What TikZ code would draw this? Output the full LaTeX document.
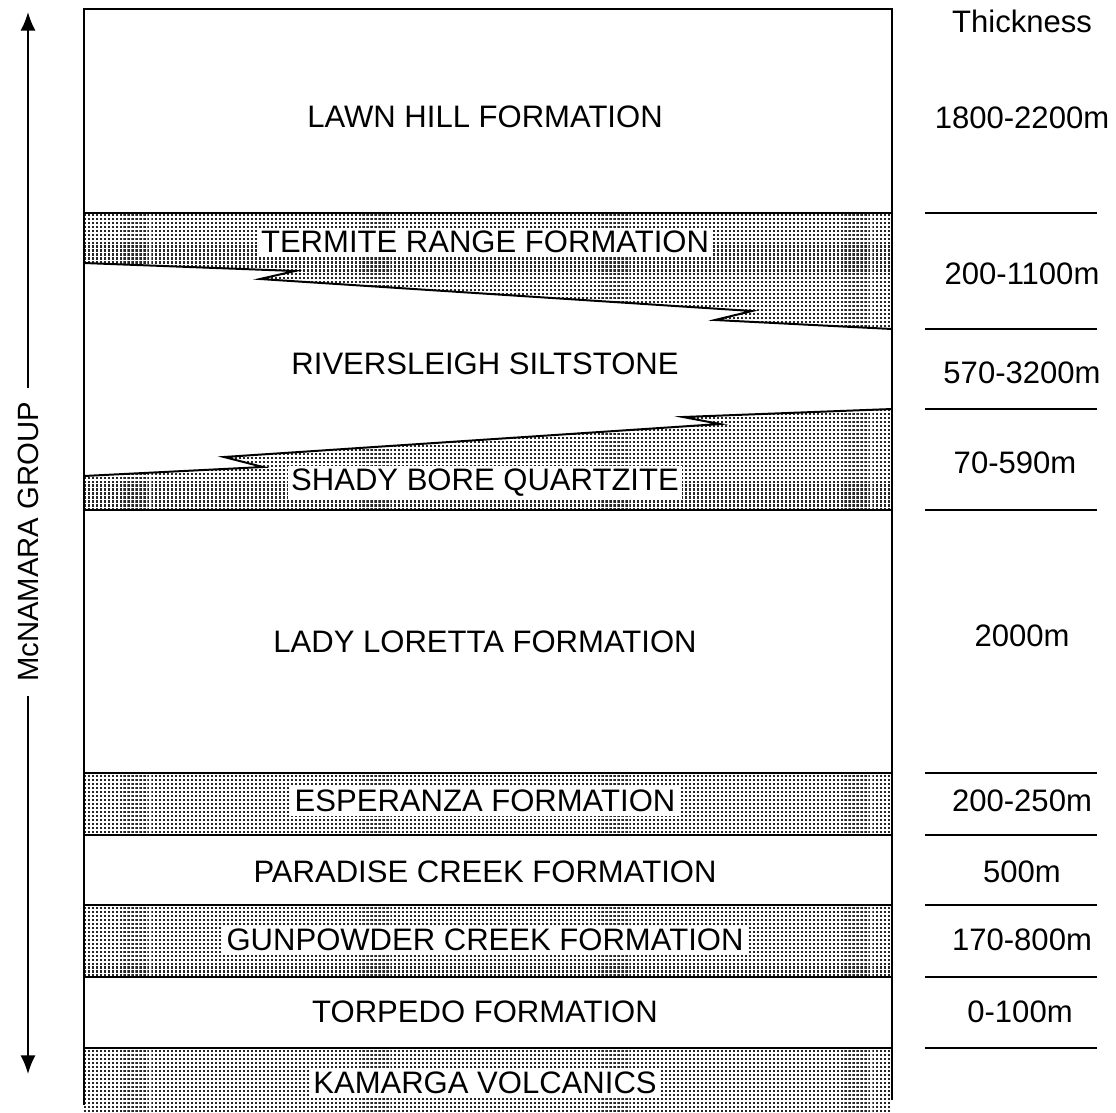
\documentclass[tikz,border=0pt]{standalone}
\usepackage{fontspec}
\setmainfont{Liberation Sans}
\usetikzlibrary{positioning,calc,patterns.meta,arrows.meta}
\colorlet{stippleGray}{black!85}

\tikzdeclarepattern{
  name=stipple,
  type=uncolored,
  bottom left={(-.1pt,-.1pt)},
  top right={(3.5pt,3.5pt)},
  tile size={(3.4pt,3.4pt)},
  code={\fill (0pt,0pt) rectangle (1.8pt,1.8pt);}
}

\begin{document}
\begin{tikzpicture}[x=0.03cm, y=-0.03cm,
    every node/.style={font=\fontsize{26.5}{31}\selectfont, align=center},
    bed/.style={pattern=stipple, pattern color=stippleGray},
    bedlabel/.style={fill=white, inner sep=3pt},
    contact/.style={line width=1.7pt},
    thickline/.style={line width=1.3pt}]
    \useasboundingbox (0,0) rectangle (1116,1112);

    % stippled beds
    \fill[bed] (84,213) -- (892,213) -- (892,329) -- (715,320) -- (752,311)
        -- (260,279) -- (295,271) -- (84,263) -- cycle;
    \fill[bed] (84,510) -- (892,510) -- (892,409) -- (683,417) -- (720,424)
        -- (224,457) -- (263,467) -- (84,476) -- cycle;
    \fill[bed] (84,773) rectangle (892,835);
    \fill[bed] (84,905) rectangle (892,977);
    \fill[bed] (84,1048) rectangle (892,1112);

    % contacts
    \draw[contact] (84,213) -- (892,213);
    \draw[contact] (84,263) -- (295,271) -- (260,279) -- (752,311) -- (715,320) -- (892,329);
    \draw[contact] (84,476) -- (263,467) -- (224,457) -- (720,424) -- (683,417) -- (892,409);
    \draw[contact] (84,510) -- (892,510);
    \draw[contact] (84,773) -- (892,773);
    \draw[contact] (84,835) -- (892,835);
    \draw[contact] (84,905) -- (892,905);
    \draw[contact] (84,977) -- (892,977);
    \draw[contact] (84,1048) -- (892,1048);
    \draw[line width=2.4pt] (84,1105) -- (84,9) -- (892,9) -- (892,1100);

    % formation names
    \node (lawn) at (485,117) {LAWN HILL FORMATION};
    \node[bedlabel] (termite) at (485,242) {TERMITE RANGE FORMATION};
    \node (rivers) at (485,364) {RIVERSLEIGH SILTSTONE};
    \node[bedlabel] (shady) at (485,483) {SHADY BORE QUARTZITE};
    \node (lady) at (485,642) {LADY LORETTA FORMATION};
    \node[bedlabel] (esper) at (485,801) {ESPERANZA FORMATION};
    \node (paradise) at (485,872) {PARADISE CREEK FORMATION};
    \node[bedlabel] (gunpowder) at (485,940) {GUNPOWDER CREEK FORMATION};
    \node (torpedo) at (485,1012) {TORPEDO FORMATION};
    \node[bedlabel] (kamarga) at (485,1083) {KAMARGA VOLCANICS};

    % thickness column
    \node (thick) at (1022,21) {Thickness};
    \node (t1) at (1022,118) {1800-2200m};
    \node (t2) at (1022,274) {200-1100m};
    \node (t3) at (1022,373) {570-3200m};
    \node (t4) at (1015,463) {70-590m};
    \node (t5) at (1022,636) {2000m};
    \node (t6) at (1022,801) {200-250m};
    \node (t7) at (1022,872) {500m};
    \node (t8) at (1022,940) {170-800m};
    \node (t9) at (1020,1012) {0-100m};
    \foreach \yy in {213,329,409,510,773,835,905,977,1048}
        \draw[thickline] (925,\yy) -- (1097,\yy);

    % group arrow
    \coordinate (grptop) at (28,12);
    \coordinate (grpbot) at (28,1074);
    \node[rotate=90, inner xsep=12pt, inner ysep=2pt, font=\fontsize{25}{30}\selectfont] (group) at (28,542) {McNAMARA GROUP};
    \draw[line width=1.6pt, -{Latex[length=16pt, width=13pt]}] (group) -- (grptop);
    \draw[line width=1.6pt, -{Latex[length=16pt, width=13pt]}] (group) -- (grpbot);
\end{tikzpicture}
\end{document}
